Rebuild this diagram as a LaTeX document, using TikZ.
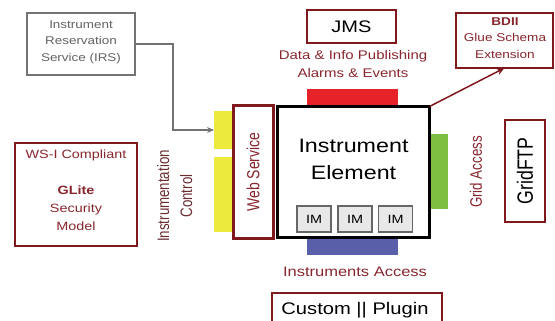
\documentclass[tikz,border=0pt]{standalone}
\usepackage{fontspec}
\setmainfont{Liberation Sans}
\newfontfamily\wf[FakeStretch=1.2]{Liberation Sans}
\usetikzlibrary{arrows.meta}
\definecolor{dred}{RGB}{128,25,30}
\definecolor{tred}{RGB}{135,38,45}
\definecolor{ibrown}{RGB}{105,45,48}
\definecolor{yel}{RGB}{236,234,60}
\definecolor{redbar}{RGB}{230,35,40}
\definecolor{bluebar}{RGB}{90,95,170}
\definecolor{greenbar}{RGB}{125,192,65}
\definecolor{irsgrey}{RGB}{115,115,115}
\definecolor{imfill}{RGB}{232,232,232}
\newcommand{\tall}[1]{\scalebox{1}[1.25]{#1}}
\tikzset{
  sz/.style n args={2}{minimum width=#1pt, minimum height=#2pt, inner sep=0pt, outer sep=0pt},
  redbox/.style={draw=dred, line width=2pt, fill=white},
  bar/.style={fill=#1, draw=none},
  imbox/.style={draw=irsgrey!90!black, line width=1.6pt, fill=imfill, sz={34}{26},
    font=\wf\fontsize{12}{14}\selectfont},
  lab/.style={inner sep=0pt, align=center},
}
\begin{document}
\begin{tikzpicture}[x=1pt,y=-1pt]
\useasboundingbox (0,0) rectangle (555,321);
\clip (0,0) rectangle (555,321);
% bars behind main boxes
\node[bar=redbar, sz={91}{17}] (topbar) at (352.5,98) {};
\node[bar=bluebar, sz={91}{17}] (botbar) at (352.5,246) {};
\node[bar=greenbar, sz={18}{75}] (gbar) at (439,171.5) {};
\node[bar=yel, sz={19}{38}] (yup) at (223.5,130) {};
\node[bar=yel, sz={19}{75}] (ylow) at (223.5,194.5) {};
% web service and instrument element
\node[draw=dred, line width=3pt, fill=white, sz={40}{132}] (ws) at (253,172) {};
\node[lab, rotate=90, text=tred, font=\fontsize{14}{16}\selectfont] (wslab) at (253,172) {\tall{Web Service}};
\node[draw=black, line width=3.5pt, fill=white, sz={152}{131}] (ie) at (353.5,172) {};
\node[lab, font=\wf\fontsize{19.4}{27}\selectfont] (ielab) at (353.5,159) {Instrument\\Element};
\node[imbox] (im1) at (314,219) {IM};
\node[imbox] (im2) at (355,219) {IM};
\node[imbox] (im3) at (395.5,219) {IM};
% IRS
\node[draw=irsgrey, line width=2pt, sz={108}{62}] (irs) at (81,44) {};
\node[lab, text=irsgrey!85!black, font=\wf\fontsize{11.2}{16.5}\selectfont] (irslab) at (81,42) {Instrument\\Reservation\\Service (IRS)};
\coordinate (irsbend1) at (173,44);
\coordinate (irsbend2) at (173,130);
\draw[irsgrey, line width=1.2pt, -{Stealth[length=7pt,width=6pt]}] (irs.east) -- (irsbend1) -- (irsbend2) -- (yup.west);
% WS-I
\node[redbox, sz={122}{103}] (wsi) at (76,194.5) {};
\node[lab, text=tred, font=\wf\fontsize{12}{18}\selectfont] (wsilab) at (76,190) {WS-I Compliant\\[18pt]\textbf{GLite}\\Security\\Model};
% Instrumentation control
\node[lab, rotate=90, text=ibrown, font=\fontsize{13.3}{18.4}\selectfont] (ic) at (176,196)
  {\tall{\begin{tabular}{@{}c@{}}Instrumentation\\Control\end{tabular}}};
% JMS
\node[draw=dred, line width=2.5pt, sz={89}{33}, font=\wf\fontsize{16.7}{18}\selectfont] (jms) at (351.5,26.5) {JMS};
\node[lab, text=tred, font=\wf\fontsize{12.5}{18}\selectfont] (publab) at (353,64) {Data \& Info Publishing\\Alarms \& Events};
% BDII
\node[redbox, sz={97}{55}] (bdii) at (504.5,40.5) {};
\node[lab, text=tred, font=\wf\fontsize{11.3}{16.5}\selectfont] (bdiilab) at (505,38) {\textbf{BDII}\\Glue Schema\\Extension};
\draw[dred, line width=1.5pt, -{Stealth[length=8pt,width=7pt]}] (ie.north east) -- (bdii.south);
% Grid access
\node[lab, rotate=90, text=tred, font=\fontsize{13.3}{16}\selectfont] (ga) at (476,172) {\tall{Grid Access}};
\node[redbox, sz={40}{102}] (gftp) at (525,171) {};
\node[lab, rotate=90, font=\fontsize{17.7}{20}\selectfont] (gftplab) at (525,171) {\tall{GridFTP}};
% Instruments access
\node[lab, text=tred, font=\wf\fontsize{13.75}{16}\selectfont] (ialab) at (355,272) {Instruments Access};
\node[draw=dred, line width=2.5pt, sz={170}{44}] (cp) at (357,315) {};
\node[lab, font=\wf\fontsize{16.8}{18}\selectfont] (cplab) at (355,310) {Custom || Plugin};
\end{tikzpicture}
\end{document}
